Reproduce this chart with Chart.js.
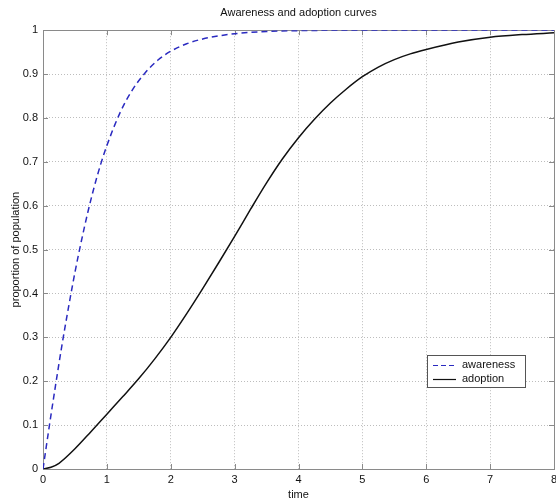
<!DOCTYPE html>
<html>
<head>
<meta charset="utf-8">
<script src="https://cdn.jsdelivr.net/npm/chart.js@4.4.1/dist/chart.umd.min.js"></script>
<style>
  html, body { margin: 0; padding: 0; background: #ffffff; }
  canvas { display: block; }
</style>
</head>
<body>
<canvas id="c" width="556" height="504"></canvas>
<script>
// ---- data ----
const awarenessTime = [0, 0.1, 0.2, 0.3, 0.4, 0.5, 0.6, 0.7, 0.8, 0.9, 1.0, 1.2, 1.4, 1.6, 1.8, 2.0, 2.25, 2.5, 2.75, 3.0, 3.5, 4.0, 5.0, 6.0, 7.0, 8.0];
const awareness     = [0, 0.099, 0.194, 0.285, 0.369, 0.448, 0.519, 0.584, 0.642, 0.693, 0.737, 0.810, 0.864, 0.903, 0.932, 0.952, 0.969, 0.980, 0.987, 0.992, 0.997, 0.999, 1.0, 1.0, 1.0, 1.0];

const adoptionTime = [0, 0.125, 0.25, 0.5, 0.75, 1.0, 1.25, 1.5, 1.75, 2.0, 2.25, 2.5, 2.75, 3.0, 3.25, 3.5, 3.75, 4.0, 4.25, 4.5, 4.75, 5.0, 5.25, 5.5, 5.75, 6.0, 6.5, 7.0, 7.5, 8.0];
const adoption     = [0, 0.004, 0.013, 0.046, 0.085, 0.125, 0.165, 0.206, 0.251, 0.300, 0.354, 0.411, 0.470, 0.530, 0.592, 0.652, 0.707, 0.755, 0.797, 0.834, 0.866, 0.894, 0.916, 0.933, 0.946, 0.956, 0.973, 0.984, 0.990, 0.994];

const xTicks = [0, 1, 2, 3, 4, 5, 6, 7, 8];
const yTicks = [0, 0.1, 0.2, 0.3, 0.4, 0.5, 0.6, 0.7, 0.8, 0.9, 1];
const seriesLabels = ['awareness', 'adoption'];
const titleText = 'Awareness and adoption curves';
const xTitle = 'time';
const yTitle = 'proportion of population';

const FONT = 'Liberation Sans, Arial, sans-serif';

const boxPlugin = {
  id: 'matlabBox',
  beforeDatasetsDraw(chart) {
    const {ctx, chartArea: a, scales} = chart;
    ctx.save();
    ctx.strokeStyle = '#8a8a8a';
    ctx.lineWidth = 1;
    ctx.setLineDash([]);
    ctx.strokeRect(Math.round(a.left) + 0.5, Math.round(a.top) + 0.5,
                   Math.round(a.right - a.left), Math.round(a.bottom - a.top));
    const tl = 5;
    ctx.beginPath();
    scales.x.ticks.forEach(t => {
      const px = Math.round(scales.x.getPixelForValue(t.value)) + 0.5;
      ctx.moveTo(px, a.bottom); ctx.lineTo(px, a.bottom - tl);
      ctx.moveTo(px, a.top); ctx.lineTo(px, a.top + tl);
    });
    scales.y.ticks.forEach(t => {
      const py = Math.round(scales.y.getPixelForValue(t.value)) + 0.5;
      ctx.moveTo(a.left, py); ctx.lineTo(a.left + tl, py);
      ctx.moveTo(a.right, py); ctx.lineTo(a.right - tl, py);
    });
    ctx.stroke();
    ctx.restore();
  },
  afterDatasetsDraw(chart) {
    const {ctx} = chart;
    ctx.save();
    const lx = 427, ly = 355, lw = 98, lh = 32;
    ctx.fillStyle = '#ffffff';
    ctx.fillRect(lx, ly, lw, lh);
    ctx.strokeStyle = '#555555';
    ctx.lineWidth = 1;
    ctx.strokeRect(lx + 0.5, ly + 0.5, lw, lh);
    ctx.font = '11px ' + FONT;
    ctx.textBaseline = 'middle';
    ctx.textAlign = 'left';
    chart.data.datasets.forEach((ds, i) => {
      const yy = ly + 10 + i * 14;
      ctx.strokeStyle = ds.borderColor;
      ctx.lineWidth = 1.2;
      ctx.setLineDash(ds.borderDash ? [5, 3] : []);
      ctx.beginPath();
      ctx.moveTo(lx + 6, yy + 0.5); ctx.lineTo(lx + 29, yy + 0.5);
      ctx.stroke();
      ctx.setLineDash([]);
      ctx.fillStyle = '#111111';
      ctx.fillText(ds.label, lx + 35, yy);
    });
    ctx.restore();
  }
};

const toXY = (xs, ys) => xs.map((x, i) => ({x: x, y: ys[i]}));

new Chart(document.getElementById('c'), {
  type: 'line',
  data: {
    datasets: [
      {
        label: seriesLabels[0],
        data: toXY(awarenessTime, awareness),
        borderColor: '#2a2ac0',
        borderWidth: 1.5,
        borderDash: [6, 4],
        pointRadius: 0,
        fill: false,
        cubicInterpolationMode: 'monotone'
      },
      {
        label: seriesLabels[1],
        data: toXY(adoptionTime, adoption),
        borderColor: '#111111',
        borderWidth: 1.5,
        pointRadius: 0,
        fill: false,
        cubicInterpolationMode: 'monotone'
      }
    ]
  },
  options: {
    responsive: false,
    animation: false,
    devicePixelRatio: 1,
    layout: { padding: { left: 0, right: 0, top: 0, bottom: 0 } },
    plugins: {
      legend: { display: false },
      tooltip: { enabled: false },
      title: {
        display: true,
        text: titleText,
        fullSize: false,
        color: '#111111',
        font: { family: FONT, size: 11, weight: 'normal' },
        padding: { top: 6, bottom: 11 }
      }
    },
    scales: {
      x: {
        type: 'linear',
        min: 0, max: 8,
        afterBuildTicks: s => { s.ticks = xTicks.map(v => ({value: v})); },
        afterFit: s => { s.height = 35; s.paddingLeft = 0; s.paddingRight = 2; },
        ticks: {
          color: '#111111',
          font: { family: FONT, size: 11 },
          padding: 4,
          maxRotation: 0,
          autoSkip: false,
          callback: v => String(v)
        },
        grid: { color: '#bdbdbd', lineWidth: 1, drawTicks: false },
        border: { display: false, dash: [1, 2] },
        title: {
          display: true,
          text: xTitle,
          color: '#111111',
          font: { family: FONT, size: 11 },
          padding: { top: 0, bottom: 2 }
        }
      },
      y: {
        type: 'linear',
        min: 0, max: 1,
        afterBuildTicks: s => { s.ticks = yTicks.map(v => ({value: v})); },
        afterFit: s => { s.width = 43; s.paddingTop = 0; s.paddingBottom = 0; },
        ticks: {
          color: '#111111',
          font: { family: FONT, size: 11 },
          padding: 5,
          autoSkip: false,
          callback: v => String(Math.round(v * 10) / 10)
        },
        grid: { color: '#bdbdbd', lineWidth: 1, drawTicks: false },
        border: { display: false, dash: [1, 2] },
        title: {
          display: true,
          text: yTitle,
          color: '#111111',
          font: { family: FONT, size: 11 },
          padding: { top: 9, bottom: 0 }
        }
      }
    }
  },
  plugins: [boxPlugin]
});
</script>
</body>
</html>
